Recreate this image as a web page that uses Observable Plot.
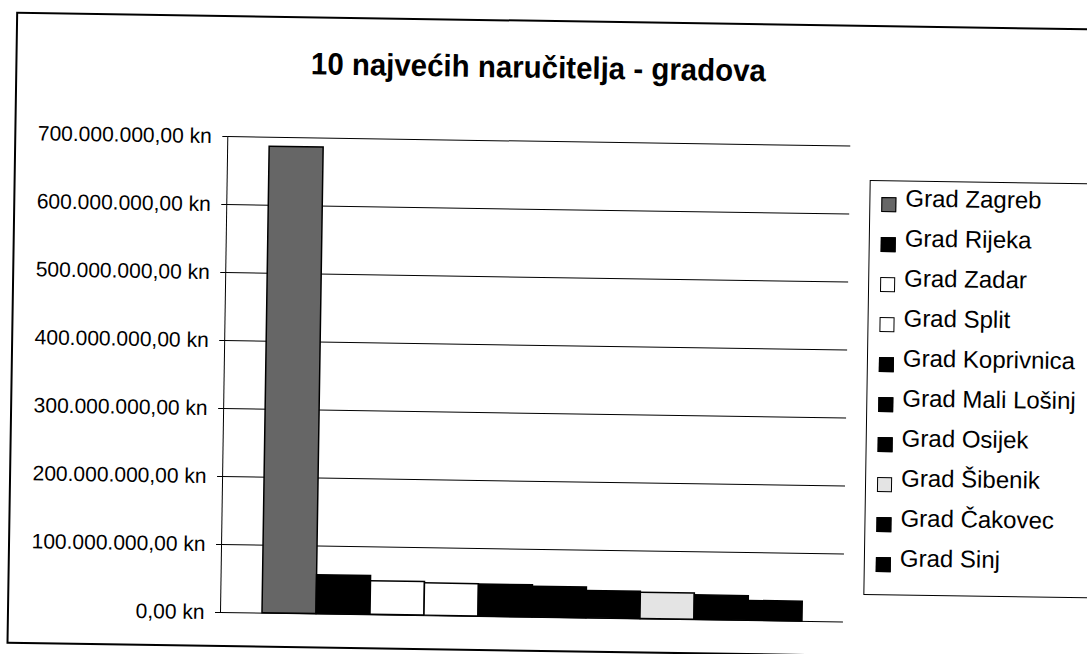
<!DOCTYPE html>
<html>
<head>
<meta charset="utf-8">
<script src="https://cdn.jsdelivr.net/npm/d3@7"></script>
<script src="https://cdn.jsdelivr.net/npm/@observablehq/plot@0.6"></script>
<style>
  html, body { margin: 0; padding: 0; background: #fff; overflow: hidden; }
  #wrap { position: relative; width: 1087px; height: 654px; overflow: hidden; }
  #page { position: absolute; left: 0; top: 0; width: 1087px; height: 654px;
          transform-origin: 220px 612px; transform: rotate(0.88deg); }
  #frame { position: absolute; left: 7px; top: 15px; width: 1120px; height: 632px;
           border: 2px solid #000; box-sizing: border-box; }
  #title { position: absolute; left: 530px; top: 47px; white-space: nowrap;
           font: bold 31px "Liberation Sans", Arial, sans-serif; line-height: 31px;
           transform: translateX(-50%) scaleX(0.95); color: #000; }
  #chart { position: absolute; left: 0; top: 0; }
  #legend { position: absolute; left: 863px; top: 170px; width: 300px; height: 415px;
            border: 1.5px solid #000; box-sizing: border-box; background: #fff; }
  .row { position: absolute; left: 0; height: 40px; line-height: 40px; white-space: nowrap;
         font: 24px "Liberation Sans", Arial, sans-serif; color: #000; }
  .sw { position: absolute; left: 11px; top: 13px; width: 15px; height: 15px;
        box-sizing: border-box; border: 1.5px solid #000; }
  .lab { position: absolute; left: 35px; top: 0; }
</style>
</head>
<body>
<div id="wrap"><div id="page">
  <div id="frame"></div>
  <div id="chart"></div>
  <div id="title"></div>
  <div id="legend"></div>
</div></div>
<script>
const titleText = "10 najvećih naručitelja - gradova";
const cities = ["Grad Zagreb", "Grad Rijeka", "Grad Zadar", "Grad Split", "Grad Koprivnica",
                "Grad Mali Lošinj", "Grad Osijek", "Grad Šibenik", "Grad Čakovec", "Grad Sinj"];
const values = [686e6, 57e6, 49.5e6, 47.5e6, 47e6, 45e6, 40e6, 38.5e6, 36e6, 29e6];
const fills = ["#666666", "#000000", "#ffffff", "#ffffff", "#000000",
               "#000000", "#000000", "#e4e4e4", "#000000", "#000000"];
const yTicks = [0, 100e6, 200e6, 300e6, 400e6, 500e6, 600e6, 700e6];

const data = cities.map((c, i) => ({city: c, value: values[i]}));

const hr = d3.formatLocale({decimal: ",", thousands: ".", grouping: [3], currency: ["", " kn"]});
const fmt = hr.format("$,.2f");

const chart = Plot.plot({
  width: 1087,
  height: 654,
  marginLeft: 220,
  marginRight: 244,
  marginTop: 136,
  marginBottom: 42,
  style: {fontFamily: "'Liberation Sans', Arial, sans-serif", fontSize: "21px", color: "#000", background: "transparent"},
  x: {domain: cities, paddingInner: 0, paddingOuter: 0.72, axis: null},
  y: {domain: [0, 700e6], ticks: yTicks, tickFormat: fmt, label: null},
  color: {domain: cities, range: fills},
  marks: [
    Plot.gridY(yTicks, {stroke: "#000", strokeOpacity: 1, strokeWidth: 1}),
    Plot.axisY(yTicks, {tickSize: 5, tickPadding: 11, tickFormat: fmt, label: null, fontSize: 21, stroke: "#000"}),
    Plot.barY(data, {x: "city", y: "value", fill: "city", stroke: "#000", strokeWidth: 1.5}),
    Plot.frame({anchor: "left", stroke: "#000", strokeWidth: 1})
  ]
});
document.getElementById("chart").appendChild(chart);
document.getElementById("title").textContent = titleText;

const legend = document.getElementById("legend");
cities.forEach((c, i) => {
  const row = document.createElement("div");
  row.className = "row";
  row.style.top = (3 + 40 * i) + "px";
  const sw = document.createElement("div");
  sw.className = "sw";
  sw.style.background = fills[i];
  const lab = document.createElement("span");
  lab.className = "lab";
  lab.textContent = c;
  row.appendChild(sw);
  row.appendChild(lab);
  legend.appendChild(row);
});
</script>
</body>
</html>
